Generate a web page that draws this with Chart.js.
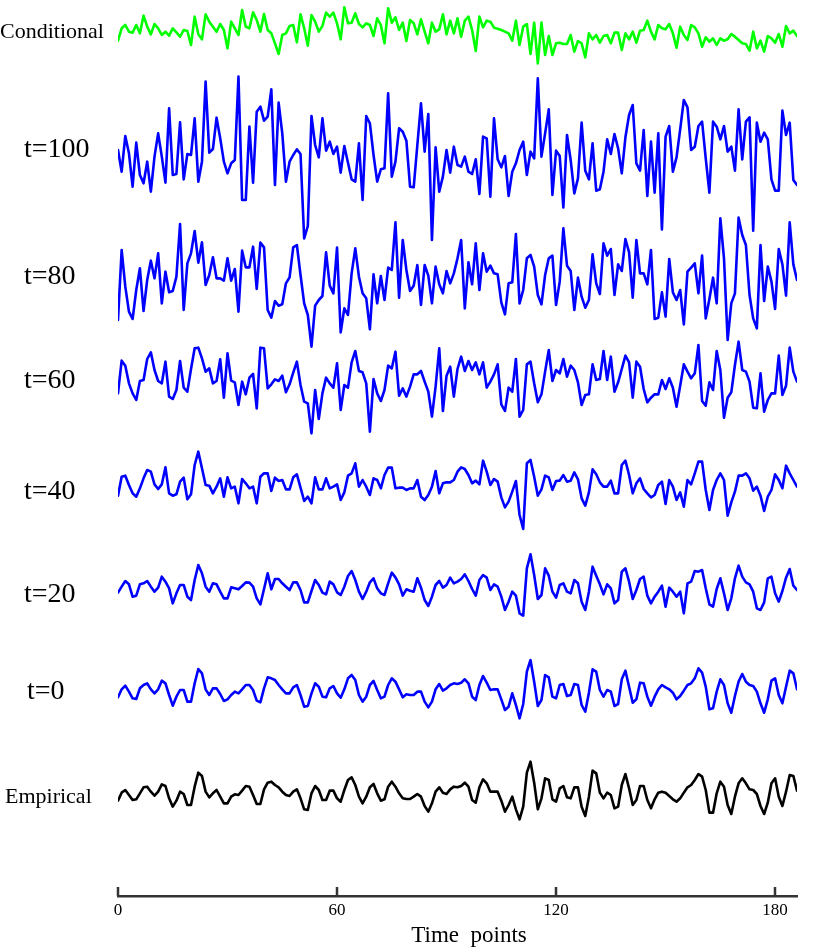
<!DOCTYPE html>
<html>
<head>
<meta charset="utf-8">
<script src="https://cdn.jsdelivr.net/npm/chart.js@4.4.1/dist/chart.umd.min.js"></script>
<style>
  html, body { margin: 0; padding: 0; background: #ffffff; }
  #wrap { width: 814px; height: 949px; }
</style>
</head>
<body>
<div id="wrap"><canvas id="c" width="814" height="949"></canvas></div>
<script>
// ---------------- DATA ----------------
const timePoints = Array.from({ length: 187 }, (_, i) => i);
const xTickValues = [0, 60, 120, 180];
const seriesNames = ['Conditional', 't=100', 't=80', 't=60', 't=40', 't=20', 't=0', 'Empirical'];
const xAxisTitle = 'Time  points';

const conditional = [
  -26, 11, 21, 1, -2, 21, -4, 49, 16, -7,
  24, 11, -9, 1, -11, 11, -1, -14, 6, 3,
  -39, 46, -7, -22, 53, 31, 16, 1, 24, 6,
  -49, 31, 11, -9, 66, 16, 11, 59, 36, 1,
  54, 6, -4, -34, -66, -9, -4, 18, 21, -31,
  53, 11, -41, 51, 31, 1, 18, 58, 46, 58,
  26, -22, 74, 26, 28, 56, 24, 14, 26, 21,
  -12, 41, 21, -34, 71, 28, 44, 6, 28, -27,
  36, 26, -7, 38, 1, -34, 28, 1, 8, 53,
  -7, 34, -4, 41,
  -14, 34, 46, 6, -57, 46, 14, 34, 31, 13,
  10, 6, 1, -4, -26, 34, -39, 16, 24, -66,
  28, -94, 28, -69, -12, -69, -34, -32, -36, -36,
  -9, -59, -27, -34, -76, -4, -22, -9, -32, -12,
  -9, -34, -2, -2, -54, -4, -22, 1, -32, 4,
  6, 34, 1, -22, 21, 11, 8, 24, -4, -47,
  16, -9, -24, 21, 14, -4, -44, -16, -29, -19,
  -39, -19, -26, -22, -6, -14, -24, -34, -36, -56,
  1, -49, -26, -59, -12, -19, -32, -6, -44, 18,
  -4, 4, -12
];
const t100 = [
  0, -65, 42, -10, -110, 22, -75, -100, -35, -125,
  -20, 50, -20, -98, 125, -75, -72, 83, -88, -12,
  -15, 95, -95, -35, 205, -8, 3, 97, 35, -35,
  -70, -40, -30, 220, -150, -150, 70, -98, 115, 130,
  88, 100, 182, -105, 142, 50, -95, -35, -15, 2,
  -12, -265, -228, 102, 15, -22, 95, -2, 25, -12,
  10, -68, 12, -38, -88, -95, 20, -150, 102, 80,
  -15, -95, -58, -55, 170, -80, -35, 65, 55, 28,
  -110, -112, 15, 140, -5, 108, -270, 8, -125, -80,
  0, -68, 10, -45,
  -50, -20, -65, -72, -28, -132, 40, 35, -140, 95,
  -28, -52, -18, -138, -65, -40, 0, 25, -75, -5,
  -25, 215, -20, 50, 122, -135, -2, -18, -172, 45,
  -30, -130, -85, 82, -62, -88, 20, -122, -118, -65,
  32, -12, 48, 5, -70, 38, 105, 135, -40, -62,
  60, -138, 25, -128, 50, -238, 40, 72, -65, -22,
  62, 150, 128, 0, 10, 72, 85, -25, -128, 85,
  70, 32, 72, -5, 10, -62, 122, -28, 85, 98,
  -242, 82, 25, 52, 32, -88, -122, -122, 118, 45,
  82, -90, -105
];
const t80 = [
  -129, 81, -29, -104, -126, -39, 26, -102, -9, 49,
  -4, 71, -79, 16, -46, -42, 1, 159, -99, 41,
  71, 138, 43, 104, -24, 6, 59, -4, -4, -11,
  56, -11, 24, -104, 79, 29, 29, 91, -36, 103,
  89, -99, -122, -72, -86, -82, -19, -1, 89, 96,
  6, -79, -114, -209, -86, -69, -57, 74, -26, -49,
  88, -166, -94, -114, 11, 86, 1, -49, -64, -157,
  8, -79, 3, -69, 28, 21, 164, -62, 111, 21,
  -42, -26, 36, -84, 36, 4, -79, 31, -22, -49,
  18,
  -19, 11, 56, 111, -94, 44, -22, 101, -39, 71,
  16, 34, 11, 8, -76, -112, -19, -16, 129, -79,
  -39, 56, 66, 31, -54, -82, 6, 56, 64, -84,
  -14, 146, 34, 18, -99, -2, -59, -92, -69, 68,
  -19, -51, 101, 64, 84, -54, 38, 18, 114, 74,
  -62, 111, 11, 11, -22, 81, -126, -122, -46, -119,
  54, -46, -69, -39, -142, 16, 28, 41, -49, 64,
  -124, -66, -2, -79, 176, 56, -189, -79, -49, 178,
  126, 96, -54, -124, -154, 96, -72, 31, -14, -96,
  84, 38, -56, 164, 38, -9
];
const t60 = [
  -37, 61, 46, -7, -37, -57, 0, 3, 66, 86,
  33, 0, -7, 58, -47, -54, -27, 60, -20, -32,
  36, 98, 100, 68, 28, 38, -7, 0, 65, -50,
  83, 1, -4, -72, -2, -40, 10, 21, -82, 100,
  98, -22, -10, 5, 0, 16, -34, -10, 25, 58,
  -12, -62, -67, -157, -27, -114, -37, 10, -7, -20,
  53, -87, -12, -20, 56, 90, 30, 26, -7, -152,
  6, -37, -60, -27, 46, 38, 88, -44, -22, -47,
  -17, 20, 20, 30, -2, -32, -107, -17, 98, -90,
  16, 43, -47,
  36, 73, 30, 60, 33, 56, 20, 56, -20, -2,
  20, 50, -70, -90, -20, -32, 66, -107, -87, 50,
  58, -7, -64, -40, 28, 93, 0, 33, 23, 66,
  13, 46, 33, -4, -72, -42, -40, 50, 3, 6,
  90, 3, 73, -32, -4, 36, 76, 56, -50, 58,
  43, -24, -64, -50, -40, -40, 3, -24, 8, -20,
  -77, -14, 50, 28, 8, 23, 108, -60, -74, -4,
  -27, 90, 33, -110, -50, -34, 48, 118, 33, 28,
  -2, -80, -82, 23, -92, -57, -37, -37, 76, -42,
  -14, 100, 28, -2
];
const t40 = [
  -17, 40, 43, 15, -10, -20, 5, 35, 60, 55,
  17, 3, 17, 68, -10, -17, -13, 25, 37, -28,
  -13, 75, 115, 65, 15, 13, -10, 10, 35, -20,
  38, 5, 10, -40, 33, 20, 5, 10, -40, 40,
  50, 50, -3, 37, 27, 30, 2, 2, 38, 47,
  7, -33, -20, -40, 38, 2, 2, 35, 5, 10,
  17, -30, -7, 43, 50, 80, 10, 30, 10, -15,
  35, 30, 5, 45, 67, 67, 5, 7, 7, 0,
  5, 5, 30, -20, -30, -15, 10, 57, -10, 20,
  23,
  23, 30, 55, 68, 63, 45, 20, 28, 17, 88,
  55, 15, 33, 25, -22, -52, -35, -5, 27, -75,
  -117, 80, 90, 40, -17, 2, 43, 38, 0, 27,
  28, 45, 25, 28, 53, 32, -25, -47, -7, 62,
  47, 23, 10, 10, 28, -10, -10, 75, 88, 45,
  -10, 20, 35, 3, -10, -22, -15, 15, 25, -42,
  30, 10, -30, -7, -50, 30, 17, 50, 85, 85,
  0, -60, 0, 30, 50, 30, -77, -37, -5, 43,
  43, 50, 35, -2, 10, -17, -63, -20, 0, 47,
  30, 5, 73, 50, 30, 10
];
const t20 = [
  4, 22, 39, 29, -8, -5, 29, 32, 39, 22,
  7, 19, 52, 37, 17, -28, 2, 27, 27, -8,
  -18, 42, 87, 62, 22, 7, 32, 29, 7, -13,
  -13, 20, 17, 14, 24, 35, 34, 22, -13, -31,
  15, 62, 14, 45, 45, 32, 22, 12, 35, 35,
  12, -25, -25, 9, 42, 27, 4, -1, 37, 29,
  5, -3, 22, 54, 69, 42, 7, -15, 7, 35,
  47, 17, 2, -3, 32, 64, 50, 29, -5, 14,
  10, 7, 47, 19, -18, -36, -8, 27, 39, 19,
  27,
  49, 32, 37, 45, 59, 39, 15, -5, 42, 57,
  49, 12, 29, 22, -8, -48, -23, 7, -5, -58,
  -65, 77, 119, 57, -15, -3, 77, 55, 7, -11,
  27, 32, 7, 2, 42, 32, -23, -48, 7, 82,
  55, 29, -1, 29, 17, -28, -18, 67, 77, 37,
  -15, 12, 45, 52, -5, -28, -8, 7, 25, -38,
  19, 7, -8, 7, -58, 32, 37, 69, 67, 72,
  17, -31, -38, 15, 47, 2, -48, -13, 47, 85,
  52, 35, 29, 7, -43, -48, -25, 47, 52, 2,
  -23, 9, 49, 75, 25, 12
];
const t0 = [
  -13, 11, 22, 4, -16, -18, 14, 24, 29, 11,
  -1, 11, 37, 29, -6, -38, -11, 9, 9, -26,
  -26, 29, 72, 59, 11, -6, 14, 14, -3, -24,
  -19, -6, 4, -1, 11, 24, 24, 9, -23, -28,
  14, 47, 44, 39, 24, 11, -1, -1, 17, 24,
  -6, -41, -39, -1, 29, 19, -11, -13, 14, 21,
  -1, -14, 11, 44, 54, 39, -6, -26, -11, 24,
  36, 9, -16, -11, 24, 44, 34, 11, -13, -4,
  -6, -6, 4, 4, -26, -43, -26, 11, 27, 7,
  14,
  24, 29, 27, 31, 41, 29, -11, -21, 24, 51,
  31, 9, 11, 11, -19, -51, -41, -1, -36, -76,
  -33, 64, 99, 34, -39, -21, 54, 47, -11, -16,
  24, 27, -9, -6, 27, 24, -36, -56, 1, 71,
  64, 9, -11, 9, 4, -39, -33, 41, 67, 19,
  -29, -19, 31, 29, -11, -38, -11, 11, 24, 17,
  11, 1, -19, -9, 7, 24, 29, 44, 74, 61,
  19, -49, -46, 4, 41, 24, -31, -59, -9, 34,
  57, 34, 24, 21, 4, -31, -59, -19, 37, 44,
  -6, -31, 19, 67, 59, 11
];
const empirical = [
  -8, 16, 24, 9, -6, -4, 14, 32, 34, 19,
  7, 19, 41, 36, -1, -26, -8, 19, 12, -21,
  -21, 34, 76, 66, 19, 2, 14, 24, 4, -16,
  -16, 4, 11, 9, 22, 36, 34, 9, -18, -18,
  26, 46, 49, 39, 32, 19, 9, 6, 19, 26,
  -1, -34, -36, 14, 36, 24, -6, -6, 22, 22,
  -1, -11, 24, 54, 62, 39, 4, -16, 4, 32,
  42, 14, -8, -4, 34, 49, 34, 14, -1, -3,
  -3, 4, 12, 4, -24, -41, -16, 19, 32, 16,
  12,
  26, 34, 32, 36, 46, 34, -6, -14, 32, 56,
  44, 19, 19, 19, -8, -41, -21, 4, -34, -64,
  -26, 76, 109, 46, -34, -1, 59, 54, -4, -11,
  29, 36, 2, -1, 32, 32, -26, -54, 4, 82,
  74, 16, -1, 16, 9, -31, -26, 39, 72, 29,
  -21, -6, 36, 36, -6, -31, -4, 16, 19, 16,
  6, -4, -11, -1, 16, 32, 39, 54, 72, 64,
  24, -44, -44, 14, 49, 34, -21, -48, 4, 44,
  59, 44, 26, 24, 12, -24, -48, -14, 44, 59,
  4, -24, 19, 69, 66, 22
];

// ---------------- LAYOUT / STYLE ----------------
const seriesList = [conditional, t100, t80, t60, t40, t20, t0, empirical];
const seriesColors = ['#00ff00', '#0000ff', '#0000ff', '#0000ff', '#0000ff', '#0000ff', '#0000ff', '#000000'];
const baselinePx = [32, 150, 277, 381, 490, 594, 693, 798];   // pixel row of each series' zero
const unitsPerPx = 3;                                         // data units per pixel (vertical)
const plotBottomPx = 896;                                     // x-axis line row (chart area bottom)
const labelX = [0, 24, 24, 24, 24, 24, 27, 5];
const labelY = [32, 150, 277, 381, 492, 595, 692, 797];
const labelSize = [22, 28, 28, 28, 28, 28, 28, 22];
const titlePos = { x: 469, y: 936, size: 23 };
const serif = "'Liberation Serif', 'Times New Roman', serif";

const yScales = {};
seriesList.forEach((_, k) => {
  const max = baselinePx[k] * unitsPerPx;
  yScales['y' + k] = {
    type: 'linear', display: false,
    min: max - plotBottomPx * unitsPerPx, max: max
  };
});

const datasets = seriesList.map((arr, k) => ({
  label: seriesNames[k],
  data: arr,
  yAxisID: 'y' + k,
  borderColor: seriesColors[k],
  borderWidth: 2.6,
  pointRadius: 0,
  tension: 0,
  fill: false,
  borderJoinStyle: 'round',
  borderCapStyle: 'round'
}));

const decorPlugin = {
  id: 'decor',
  afterDraw(chart) {
    const ctx = chart.ctx;
    const xs = chart.scales.x;
    ctx.save();
    // inward tick marks
    ctx.strokeStyle = '#333333';
    ctx.lineWidth = 2.5;
    xs.ticks.forEach(t => {
      const px = Math.round(xs.getPixelForValue(t.value));
      ctx.beginPath();
      ctx.moveTo(px, xs.top);
      ctx.lineTo(px, xs.top - 9);
      ctx.stroke();
    });
    // series labels
    ctx.fillStyle = '#000000';
    ctx.textAlign = 'left';
    ctx.textBaseline = 'middle';
    seriesNames.forEach((name, k) => {
      ctx.font = labelSize[k] + 'px ' + serif;
      ctx.fillText(name, labelX[k], labelY[k]);
    });
    // x-axis title
    ctx.textAlign = 'center';
    ctx.font = titlePos.size + 'px ' + serif;
    ctx.fillText(xAxisTitle, titlePos.x, titlePos.y);
    ctx.restore();
  }
};

new Chart(document.getElementById('c'), {
  type: 'line',
  data: { labels: timePoints, datasets },
  options: {
    responsive: false,
    animation: false,
    devicePixelRatio: 1,
    layout: { padding: { left: 118, right: 17, top: 0, bottom: 0 } },
    plugins: { legend: { display: false }, tooltip: { enabled: false } },
    scales: Object.assign({
      x: {
        type: 'linear',
        position: 'bottom',
        min: 0, max: 186,
        afterBuildTicks: (s) => { s.ticks = xTickValues.map(v => ({ value: v })); },
        afterFit: (s) => { s.height = 949 - plotBottomPx; },
        grid: { display: false, drawTicks: false },
        border: { display: true, color: '#333333', width: 2.5 },
        ticks: {
          autoSkip: false, maxRotation: 0, padding: 4, color: '#000000',
          font: { family: serif, size: 17 }
        },
        title: { display: false }
      }
    }, yScales)
  },
  plugins: [decorPlugin]
});
</script>
</body>
</html>
